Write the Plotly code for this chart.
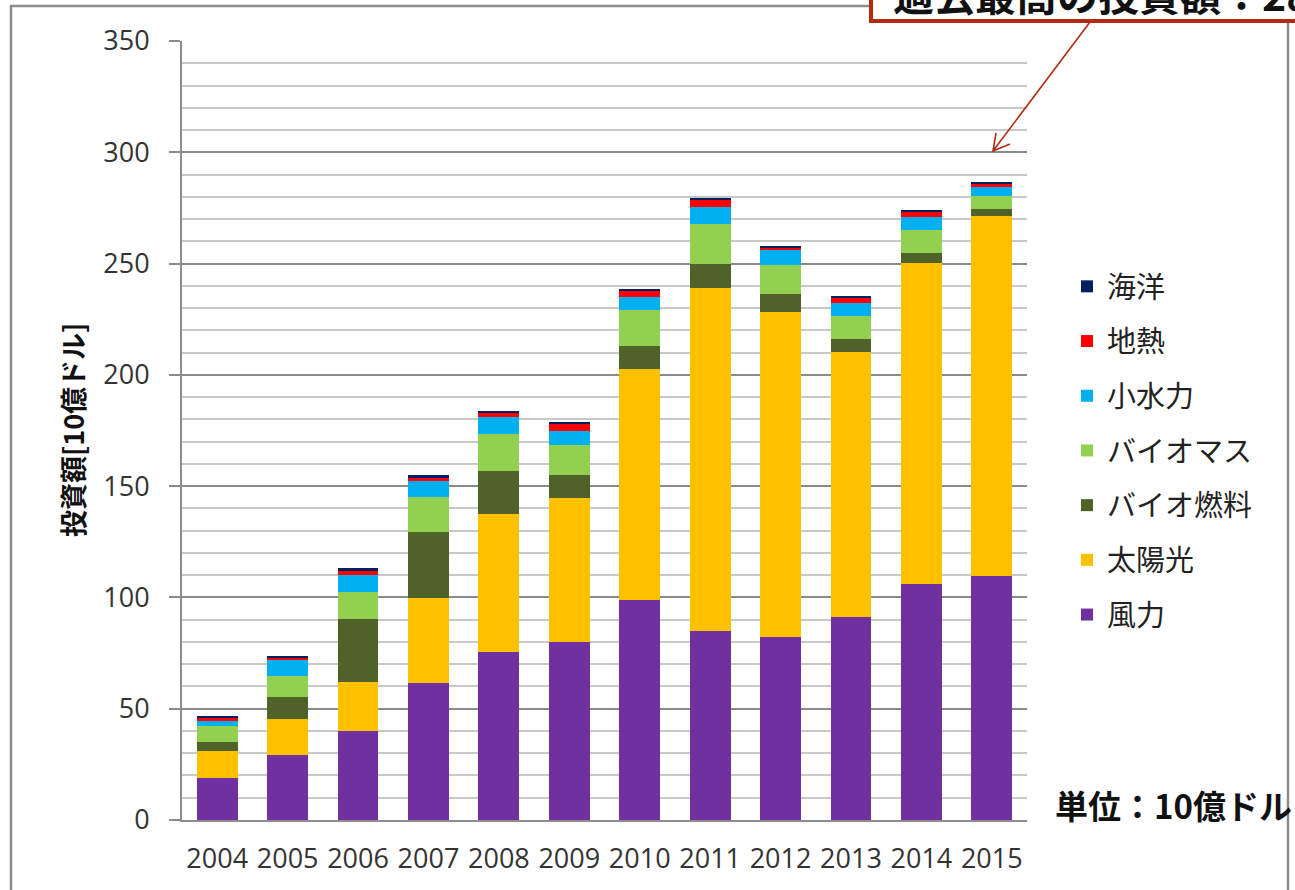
import plotly.graph_objects as go

# Renewable energy investment by technology (unit: 10億ドル)
years = ["2004", "2005", "2006", "2007", "2008", "2009",
         "2010", "2011", "2012", "2013", "2014", "2015"]

wind       = [19.0, 29.2, 40.1, 61.6, 75.6, 80.1, 98.8, 84.8, 82.1, 91.2, 106.0, 109.6]
solar      = [12.1, 16.0, 22.0, 38.3, 61.9, 64.4, 103.7, 154.4, 146.3, 119.2, 144.1, 161.9]
biofuel    = [3.8, 9.9, 28.3, 29.3, 19.3, 10.3, 10.5, 10.5, 7.8, 5.6, 4.7, 3.1]
biomass    = [7.3, 9.6, 12.1, 16.0, 16.8, 13.6, 16.2, 18.0, 13.3, 10.5, 10.3, 5.8]
small_hydro = [2.4, 7.0, 7.8, 7.1, 7.6, 6.3, 5.7, 7.6, 6.6, 5.7, 5.7, 3.9]
geothermal = [1.4, 1.4, 1.5, 1.8, 2.0, 3.4, 3.1, 3.3, 1.3, 2.7, 2.7, 1.8]
ocean      = [0.3, 0.7, 1.2, 0.7, 0.7, 0.4, 0.7, 0.7, 0.6, 0.6, 0.6, 0.6]

series_names = ["風力", "太陽光", "バイオ燃料", "バイオマス", "小水力", "地熱", "海洋"]
series_values = [wind, solar, biofuel, biomass, small_hydro, geothermal, ocean]
series_colors = ["#7030A0", "#FFC000", "#4F6228", "#92D050", "#00B0F0", "#FF0000", "#002060"]

W, H = 1295, 890
L, R, T, B = 182, 268, 41, 70
PW, PH = W - L - R, H - T - B

def px(x):
    return (x - L) / PW

def py(y):
    return (H - B - y) / PH

JP = "Noto Sans CJK JP"
NUM = "Open Sans"

fig = go.Figure()
n = len(series_names)
for i, (name, vals, col) in enumerate(zip(series_names, series_values, series_colors)):
    fig.add_trace(go.Bar(
        x=years, y=vals, name=name, legendgroup=name,
        legendrank=(n - i) * 10,  # top of the stack listed first
        marker=dict(color=col, line=dict(width=0)),
    ))

shapes = []
# outer chart frame
shapes.append(dict(type="rect", xref="paper", yref="paper",
                   x0=px(11), x1=px(1288), y0=py(900), y1=py(6),
                   line=dict(color="#8c8c8c", width=2.5), layer="below"))
# callout box
shapes.append(dict(type="rect", xref="paper", yref="paper",
                   x0=px(871), x1=px(1330), y0=py(21), y1=py(-60),
                   line=dict(color="#B22A12", width=4), fillcolor="white", layer="above"))
# callout arrow with open head
tail, head = (1090, 22), (993, 151)
w1, w2 = (1010, 144), (996, 133)
path = (f"M {px(tail[0])},{py(tail[1])} L {px(head[0])},{py(head[1])} "
        f"M {px(w1[0])},{py(w1[1])} L {px(head[0])},{py(head[1])} L {px(w2[0])},{py(w2[1])}")
shapes.append(dict(type="path", xref="paper", yref="paper", path=path,
                   line=dict(color="#B22A12", width=1.6), layer="above"))

annotations = [
    dict(text="<b>過去最高の投資額：2860億ドル</b>", xref="paper", yref="paper",
         x=px(891), y=py(-7), xanchor="left", yanchor="middle", showarrow=False,
         font=dict(family=JP, size=41, color="#111")),
    dict(text="<b>投資額[10億ドル]</b>", xref="paper", yref="paper",
         x=px(72), y=py(430), xanchor="center", yanchor="middle", textangle=-90,
         showarrow=False, font=dict(family=JP, size=27, color="#111")),
    dict(text="<b>単位：10億ドル</b>", xref="paper", yref="paper",
         x=px(1053), y=py(805), xanchor="left", yanchor="middle", showarrow=False,
         font=dict(family=JP, size=33, color="#111")),
]

fig.update_layout(
    width=W, height=H, autosize=False,
    margin=dict(l=L, r=R, t=T, b=B, pad=0),
    paper_bgcolor="white", plot_bgcolor="white",
    barmode="stack", bargap=0.42,
    showlegend=True,
    legend=dict(x=px(1067), y=py(261), xanchor="left", yanchor="top",
                traceorder="grouped", tracegroupgap=14,
                font=dict(family=JP, size=29, color="#222"),
                bgcolor="rgba(0,0,0,0)"),
    shapes=shapes, annotations=annotations,
    xaxis=dict(type="category", showgrid=False, showline=True,
               linecolor="#8c8c8c", linewidth=2, ticks="",
               tickfont=dict(family=NUM, size=27, color="#333"),
               ticklabelstandoff=14, fixedrange=True),
    yaxis=dict(range=[0, 350], dtick=50, showline=True, linecolor="#8c8c8c",
               linewidth=2, ticks="outside", ticklen=11, tickcolor="#8c8c8c",
               tickwidth=2, showgrid=True, gridcolor="#8a8a8a", gridwidth=1.6,
               minor=dict(dtick=10, showgrid=True, gridcolor="#c8c8c8", gridwidth=1.6),
               tickfont=dict(family=NUM, size=27, color="#333"),
               ticklabelstandoff=14, zeroline=False, fixedrange=True),
)

fig.write_html("out.html")
